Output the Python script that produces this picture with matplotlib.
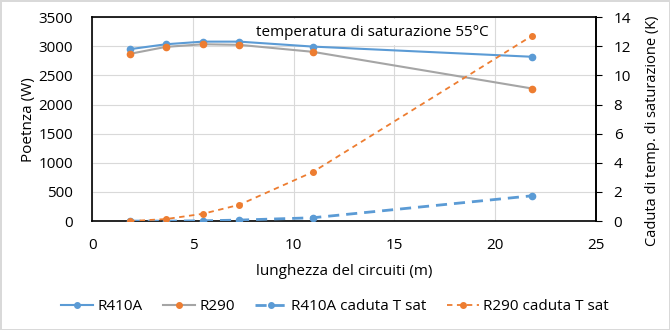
import matplotlib
matplotlib.use("Agg")
from matplotlib import pyplot as plt
from matplotlib.lines import Line2D

plt.rcParams['font.family'] = ['Open Sans', 'DejaVu Sans']

# lunghezza del circuito (m)
lunghezza = [1.85, 3.65, 5.48, 7.3, 10.95, 21.85]

# potenza (W)
r410a_potenza = [2950, 3035, 3080, 3080, 2995, 2820]
r290_potenza = [2870, 2990, 3035, 3025, 2905, 2275]

# caduta temperatura di saturazione (K)
r410a_caduta = [0.0, 0.0, 0.02, 0.07, 0.23, 1.74]
r290_caduta = [0.0, 0.14, 0.5, 1.12, 3.37, 12.73]

blue = '#5B9BD5'
orange = '#ED7D31'
gray = '#A5A5A5'

fig = plt.figure(figsize=(6.7, 3.3), dpi=100)
fig.patch.set_edgecolor('#D9D9D9')
fig.patch.set_linewidth(2)
ax = fig.add_axes([0.138, 0.330, 0.751, 0.618])
ax2 = ax.twinx()

ax.plot(lunghezza, r410a_potenza, color=blue, lw=1.5, marker='o', ms=4.5,
        mfc=blue, mec=blue, zorder=3)
ax.plot(lunghezza, r290_potenza, color=gray, lw=1.5, marker='o', ms=4.5,
        mfc=orange, mec=orange, zorder=3)
ax2.plot(lunghezza, r410a_caduta, color=blue, lw=2, dashes=(4, 2.5), marker='o',
         ms=4.5, mfc=blue, mec=blue)
ax2.plot(lunghezza, r290_caduta, color=orange, lw=1.3, dashes=(3, 2.5), marker='o',
         ms=4, mfc=orange, mec=orange)

ax.set_xlim(0, 25)
ax.set_ylim(0, 3500)
ax2.set_ylim(0, 14)
ax.set_xticks(range(0, 26, 5))
ax.set_yticks(range(0, 3501, 500))
ax2.set_yticks(range(0, 15, 2))

ax.grid(True, color='#D9D9D9', lw=0.8)
ax.set_axisbelow(True)
ax.tick_params(axis='x', length=0, labelsize=11, pad=12)
ax.tick_params(axis='y', length=0, labelsize=11, pad=14)
ax2.tick_params(axis='y', length=4, labelsize=11, pad=9)

for s in ax.spines.values():
    s.set_color('black')
    s.set_linewidth(1.2)
    s.set_zorder(2.4)
for name, s in ax2.spines.items():
    s.set_color('black')
    s.set_linewidth(1.2)
    if name != 'right':
        s.set_visible(False)

ax.set_xlabel('lunghezza del circuiti (m)', fontsize=11, labelpad=8)
ax.set_ylabel('Poetnza (W)', fontsize=11, labelpad=2)
ax2.set_ylabel('Caduta di temp. di saturazione (K)', fontsize=10.5)
ax2.yaxis.set_label_coords(1.098, 0.442)

ax.text(0.556, 0.925, 'temperatura di saturazione 55°C', transform=ax.transAxes,
        ha='center', va='center', fontsize=11, zorder=2.6, clip_on=False,
        bbox=dict(facecolor='white', edgecolor='none', pad=4))

handles = [
    Line2D([], [], color=blue, lw=1.5, marker='o', ms=4, mfc=blue, mec=blue),
    Line2D([], [], color=gray, lw=1.5, marker='o', ms=4, mfc=orange, mec=orange),
    Line2D([], [], color=blue, lw=2, dashes=(4, 2.5), marker='o', ms=4,
           mfc=blue, mec=blue),
    Line2D([], [], color=orange, lw=1.3, dashes=(3, 2.5), marker='o', ms=4,
           mfc=orange, mec=orange),
]
labels = ['R410A', 'R290', 'R410A caduta T sat', 'R290 caduta T sat']
fig.legend(handles, labels, loc='center', bbox_to_anchor=(0.5, 0.07), ncol=4,
           frameon=False, fontsize=11, handlelength=2.1, handletextpad=0.3,
           columnspacing=1.3)

fig.savefig('out.png', dpi=100)
